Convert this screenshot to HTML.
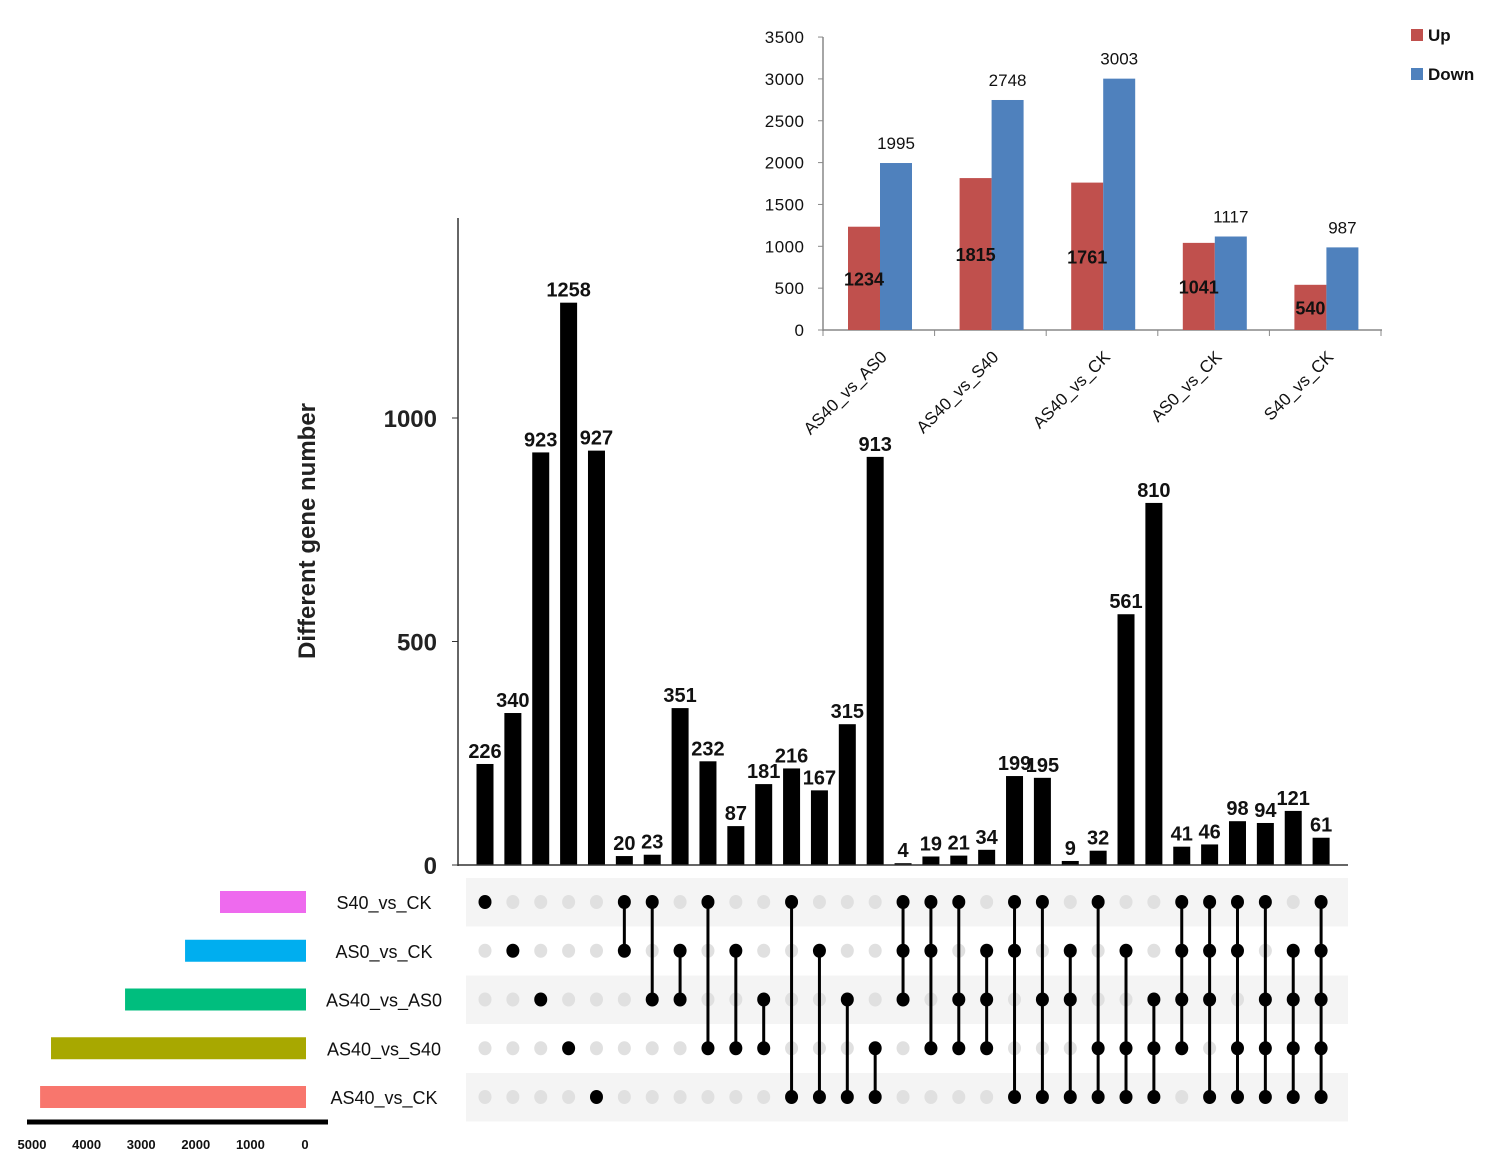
<!DOCTYPE html>
<html><head><meta charset="utf-8"><style>
html,body{margin:0;padding:0;background:#fff;}
svg{display:block;font-family:"Liberation Sans",sans-serif;}
</style></head><body>
<svg id="c" width="1491" height="1174" viewBox="0 0 1491 1174"></svg>
<script>
const intersectionCounts=[226,340,923,1258,927,20,23,351,232,87,181,216,167,315,913,4,19,21,34,199,195,9,32,561,810,41,46,98,94,121,61];
const intersectionSets=[[0],[1],[2],[3],[4],[0,1],[0,2],[1,2],[0,3],[1,3],[2,3],[0,4],[1,4],[2,4],[3,4],[0,1,2],[0,1,3],[0,2,3],[1,2,3],[0,1,4],[0,2,4],[1,2,4],[0,3,4],[1,3,4],[2,3,4],[0,1,2,3],[0,1,2,4],[0,1,3,4],[0,2,3,4],[1,2,3,4],[0,1,2,3,4]];
const setNames=["S40_vs_CK","AS0_vs_CK","AS40_vs_AS0","AS40_vs_S40","AS40_vs_CK"];
const setSizes=[1575,2215,3314,4670,4870];
const setColors=["#EE6AEE","#00AEEF","#00BE7E","#A8A800","#F8766D"];
const mainTicks=[0,500,1000];
const setTicks=[5000,4000,3000,2000,1000,0];
const insetCats=["AS40_vs_AS0","AS40_vs_S40","AS40_vs_CK","AS0_vs_CK","S40_vs_CK"];
const insetUp=[1234,1815,1761,1041,540];
const insetDown=[1995,2748,3003,1117,987];
const insetTicks=[0,500,1000,1500,2000,2500,3000,3500];

const NS="http://www.w3.org/2000/svg";
const svg=document.getElementById('c');
function mk(t,a,p){const e=document.createElementNS(NS,t);for(const k in a)e.setAttribute(k,a[k]);(p||svg).appendChild(e);return e;}
function tx(s,a,p){const e=mk('text',a,p);e.textContent=s;return e;}

// main axes
const y=v=>865-v*0.447;
const cx=i=>485+i*27.87;
const rowY=r=>902+r*48.75;
let g=mk('g',{});
let ax=mk('line',{x1:458,y1:218,x2:458,y2:866,stroke:'#333','stroke-width':1.5});

let bl=mk('line',{x1:458,y1:865,x2:1348,y2:865,stroke:'#333','stroke-width':1.5});

mainTicks.forEach(v=>{
 let l=mk('line',{x1:452,y1:y(v),x2:458,y2:y(v),stroke:'#333'});
 
 let t=tx(String(v),{x:437,y:y(v)+9,'text-anchor':'end','font-size':24,'font-weight':'bold',fill:'#222'});
 
});
let yt=tx('Different gene number',{x:0,y:0,transform:'translate(315,531) rotate(-90)','text-anchor':'middle','font-size':24,'font-weight':'bold',fill:'#222'});


// stripes
[0,2,4].forEach(r=>{let s=mk('rect',{x:466,y:rowY(r)-24,width:882,height:48.5,fill:'#f4f4f4'});
 });

intersectionCounts.forEach((v,i)=>{
 let b=mk('rect',{x:cx(i)-8.5,y:y(v),width:17,height:v*0.447,fill:'#000'},g);
 
 let t=tx(String(v),{x:cx(i),y:y(v)-6,'text-anchor':'middle','font-size':20,'font-weight':'bold',fill:'#111'});
 
 const s=intersectionSets[i];
 for(let r=0;r<5;r++){
  let d=mk('ellipse',{cx:cx(i),cy:rowY(r),rx:6.5,ry:7,fill:s.includes(r)?'#000':'#e0e0e0'});
  
 }
 if(s.length>1){
  let l=mk('line',{x1:cx(i),y1:rowY(Math.min(...s)),x2:cx(i),y2:rowY(Math.max(...s)),stroke:'#000','stroke-width':3});
  
 }
});

// set size bars
const sx=v=>306-v*0.0546;
setNames.forEach((n,r)=>{
 let b=mk('rect',{x:sx(setSizes[r]),y:rowY(r)-11,width:306-sx(setSizes[r]),height:22,fill:setColors[r]});
 
 let t=tx(n,{x:384,y:rowY(r)+7,'text-anchor':'middle','font-size':18,fill:'#111'});
 
});
let sa=mk('line',{x1:27,y1:1122,x2:328,y2:1122,stroke:'#000','stroke-width':5});

setTicks.forEach(v=>{let t=tx(String(v),{x:sx(v)-1,y:1149,'text-anchor':'middle','font-size':13,'font-weight':'bold',fill:'#111'});
 });

// inset chart
const iy=v=>330-v*0.0837;
const gx=i=>880+i*111.6;
let ig=mk('g',{});
mk('line',{x1:823,y1:37,x2:823,y2:331,stroke:'#888','stroke-width':1.5},ig);
mk('line',{x1:823,y1:330,x2:1382,y2:330,stroke:'#888','stroke-width':1.5},ig);
insetTicks.forEach(v=>{
 mk('line',{x1:818,y1:iy(v),x2:823,y2:iy(v),stroke:'#888'},ig);
 let t=tx(String(v),{x:804,y:iy(v)+6,'text-anchor':'end','font-size':17,fill:'#111',textLength:String(v).length*9.8},ig);
 
});
for(let i=0;i<=5;i++)mk('line',{x1:823+i*111.6,y1:330,x2:823+i*111.6,y2:336,stroke:'#888'},ig);
insetCats.forEach((c,i)=>{
 let u=mk('rect',{x:gx(i)-32,y:iy(insetUp[i]),width:32,height:insetUp[i]*0.0837,fill:'#C0504D'},ig);
 
 let d=mk('rect',{x:gx(i),y:iy(insetDown[i]),width:32,height:insetDown[i]*0.0837,fill:'#4F81BD'},ig);
 
 let tu=tx(String(insetUp[i]),{x:gx(i)-16,y:iy(insetUp[i]/2)+7,'text-anchor':'middle','font-size':18,'font-weight':'bold',fill:'#111'},ig);
 
 let td=tx(String(insetDown[i]),{x:gx(i)+16,y:iy(insetDown[i])-14,'text-anchor':'middle','font-size':17,fill:'#111'},ig);
 
 let tc=tx(c,{x:0,y:0,transform:`translate(${gx(i)+8},358) rotate(-45)`,'text-anchor':'end','font-size':17,fill:'#111'},ig);
 
});
[['Up','#C0504D',35],['Down','#4F81BD',74]].forEach(([n,c,yy])=>{
 let r=mk('rect',{x:1411,y:yy-6,width:12,height:12,fill:c},ig);
 
 let t=tx(n,{x:1428,y:yy+6,'font-size':17,'font-weight':'bold',fill:'#111'},ig);
 
});
</script>
</body></html>
